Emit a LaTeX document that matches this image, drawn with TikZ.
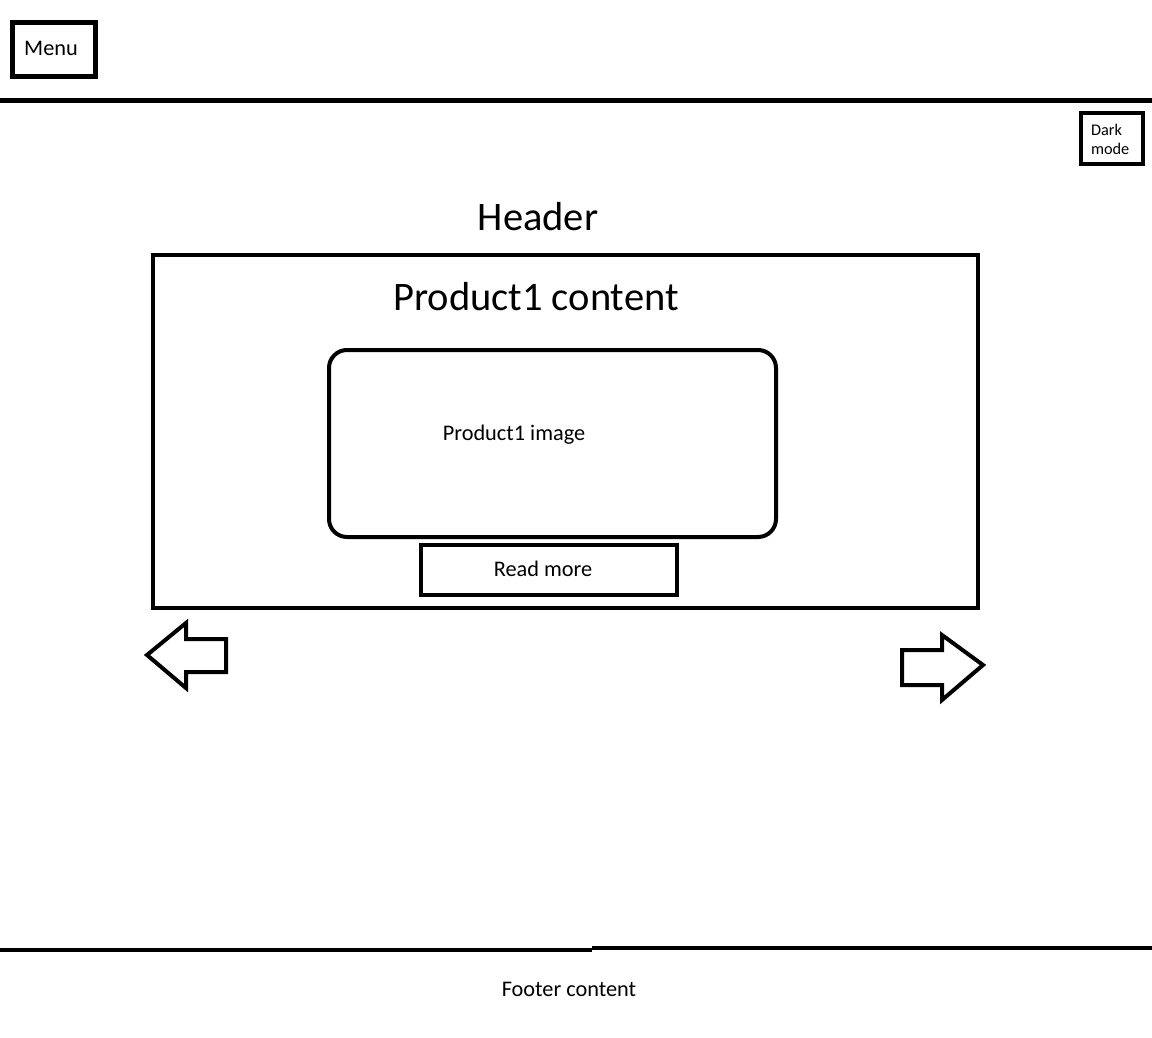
\documentclass[tikz,border=0pt]{standalone}
\usepackage{fontspec}
\setmainfont{Carlito}

\def \lineWidth {4pt}

\begin{document}
\begin{tikzpicture}[x=1pt, y=-1pt, line width=\lineWidth, line join=miter,
      box/.style={draw, line width=\lineWidth, inner sep=0pt},
      bigText/.style={font=\fontsize{40.5}{46}\selectfont},
      smallText/.style={font=\fontsize{22.3}{26}\selectfont},
      tinyText/.style={font=\fontsize{16.3}{19}\selectfont}]

      \useasboundingbox (0,0) rectangle (1152,1037);

      \begin{scope}
         \node[box, line width=5pt, minimum width=83pt, minimum height=54pt] (menu) at (53.5,49) {};
         \node[smallText] (menuText) at (51,48) {Menu};
         \draw[line width=5pt] (0,100) -- (1152,100);
         \node[box, minimum width=62pt, minimum height=51pt] (darkMode) at (1112,138.5) {};
         \node[tinyText, align=left, anchor=west, inner sep=0pt] (darkModeText) at (1089,139) {Dark\\mode};
         \node[bigText] (header) at (538,217) {Header};
      \end{scope}

      \begin{scope}
         \draw (153,255) rectangle (978,608);
         \node[bigText] (productTitle) at (536,297) {Product1 content};
         \draw[rounded corners=18pt] (329,350) rectangle (776,537);
         \node[smallText, anchor=base] (productImage) at (514,440) {Product1 image};
         \node[box, minimum width=256pt, minimum height=50pt] (readMore) at (549,570) {};
         \node[smallText] (readMoreText) at (543,569) {Read more};
      \end{scope}

      \begin{scope}
         \draw (147,655) -- (186,623) -- (186,639) -- (226,639) -- (226,672) -- (186,672) -- (186,688) -- cycle;
         \draw (902,650) -- (942,650) -- (942,635) -- (983,665) -- (942,700) -- (942,685) -- (902,685) -- cycle;
      \end{scope}

      \begin{scope}
         \draw (0,950) -- (592,950);
         \draw (592,948) -- (1152,948);
         \node[smallText] (footer) at (569,989) {Footer content};
      \end{scope}

   \end{tikzpicture}
\end{document}
